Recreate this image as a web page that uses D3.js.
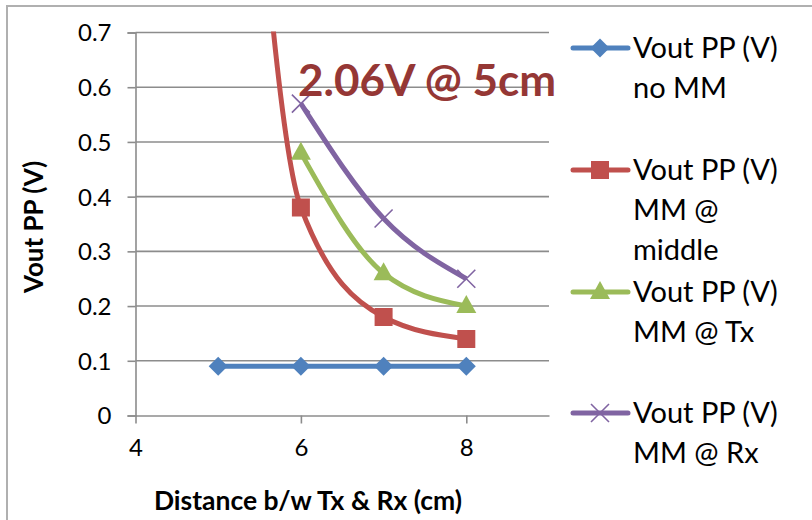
<!DOCTYPE html>
<html>
<head>
<meta charset="utf-8">
<script src="https://cdn.jsdelivr.net/npm/d3@7"></script>
<style>
  body { margin: 0; background: #fff; }
  svg { display: block; font-family: Lato, "Open Sans", sans-serif; }
</style>
</head>
<body>
<svg id="chart" width="812" height="520"></svg>
<script>
// values
var distances = [5, 6, 7, 8];
var noMM     = [0.09, 0.09, 0.09, 0.09];
var mmMiddle = [2.06, 0.38, 0.18, 0.14];   // first point is off the top of the axis
var mmTx     = [null, 0.48, 0.26, 0.20];
var mmRx     = [null, 0.57, 0.36, 0.25];

var xTicks = [4, 6, 8];
var yTicks = [0, 0.1, 0.2, 0.3, 0.4, 0.5, 0.6, 0.7];

var seriesLabels = [
  ["Vout PP (V)", "no MM"],
  ["Vout PP (V)", "MM @", "middle"],
  ["Vout PP (V)", "MM @ Tx"],
  ["Vout PP (V)", "MM @ Rx"]
];
var seriesColors = ["#4f81bd", "#c0504d", "#9bbb59", "#8064a2"];
var seriesMarkers = ["diamond", "square", "triangle", "cross"];
var annotation = "2.06V @ 5cm";

const svg = d3.select("#chart"),
    plot = {left: 135.5, right: 549, top: 32.5, bottom: 415.5};

// chart frame (only top and left edges show in the crop)
svg.append("rect")
    .attr("x", 7).attr("y", 6)
    .attr("width", 830).attr("height", 540)
    .attr("fill", "none")
    .attr("stroke", "#b0b0b0")
    .attr("stroke-width", 2);

const x = d3.scaleLinear().domain([4, 9]).range([plot.left, plot.right]);
const y = d3.scaleLinear().domain([0, 0.7]).range([plot.bottom, plot.top]);

// gridlines
svg.append("g").selectAll("line")
    .data(yTicks.slice(1))
    .enter().append("line")
    .attr("x1", plot.left).attr("x2", plot.right)
    .attr("y1", d => y(d)).attr("y2", d => y(d))
    .attr("stroke", "#8c8c8c").attr("stroke-width", 1.6);

// y axis
const yAxis = svg.append("g")
    .attr("transform", "translate(" + plot.left + ",0)")
    .call(d3.axisLeft(y).tickValues(yTicks).tickSize(8).tickPadding(16)
        .tickFormat(d => d === 0 ? "0" : d3.format(".1f")(d)));

// x axis
const xAxis = svg.append("g")
    .attr("transform", "translate(0," + plot.bottom + ")")
    .call(d3.axisBottom(x).tickValues(xTicks).tickSize(8).tickPadding(10)
        .tickSizeOuter(0).tickFormat(d3.format("d")));

[yAxis, xAxis].forEach(function (a) {
    a.select(".domain").attr("stroke", "#8c8c8c").attr("stroke-width", 1.6);
    a.selectAll(".tick line").attr("stroke", "#8c8c8c").attr("stroke-width", 1.6);
    a.selectAll(".tick text")
        .attr("fill", "#000")
        .style("font-family", "Lato, sans-serif")
        .style("font-size", "24px");
});
yAxis.selectAll(".tick text").attr("dy", "0.35em");
xAxis.selectAll(".tick text").attr("dy", "0.95em");

// axis titles
svg.append("text")
    .attr("x", 308).attr("y", 510)
    .style("text-anchor", "middle")
    .style("font-weight", "bold")
    .style("font-size", "26.5px")
    .text("Distance b/w Tx & Rx (cm)");

svg.append("text")
    .attr("transform", "translate(43,227) rotate(-90)")
    .style("text-anchor", "middle")
    .style("font-weight", "bold")
    .style("font-size", "26px")
    .text("Vout PP (V)");

// series
svg.append("clipPath").attr("id", "plotClip")
    .append("rect")
    .attr("x", plot.left).attr("y", plot.top - 1)
    .attr("width", plot.right - plot.left + 2)
    .attr("height", plot.bottom - plot.top + 12);

const allSeries = [noMM, mmMiddle, mmTx, mmRx];

const line = d3.line()
    .defined(d => d[1] != null)
    .x(d => x(d[0]))
    .y(d => y(d[1]))
    .curve(d3.curveMonotoneX);

function markerPath(kind) {
    if (kind === "diamond") return d3.symbol(d3.symbolDiamond2, 230)();
    if (kind === "square") return "M-9,-9H9V9H-9Z";
    if (kind === "triangle") return "M0,-11L10,7H-10Z";
    return "M-9,-9L9,9M9,-9L-9,9";
}

function drawMarker(sel, i) {
    sel.append("path")
        .attr("d", markerPath(seriesMarkers[i]))
        .attr("fill", seriesMarkers[i] === "cross" ? "none" : seriesColors[i])
        .attr("stroke", seriesColors[i])
        .attr("stroke-width", seriesMarkers[i] === "cross" ? 1.6 : 0);
}

const gSeries = svg.append("g").attr("clip-path", "url(#plotClip)");

allSeries.forEach(function (vals, i) {
    var pts = distances.map((d, j) => [d, vals[j]]).filter(p => p[1] != null);
    gSeries.append("path")
        .datum(pts)
        .attr("d", line)
        .attr("fill", "none")
        .attr("stroke", seriesColors[i])
        .attr("stroke-width", 5)
        .attr("stroke-linejoin", "round");
    pts.forEach(function (p) {
        var m = gSeries.append("g")
            .attr("transform", "translate(" + x(p[0]) + "," + y(p[1]) + ")");
        drawMarker(m, i);
    });
});

// annotation for the off-scale point
svg.append("text")
    .attr("x", 298).attr("y", 96)
    .attr("fill", "#953735")
    .style("font-weight", "bold")
    .style("font-size", "44px")
    .text(annotation);

// legend
var legendTop = [48, 170, 292, 413];
seriesLabels.forEach(function (lines, i) {
    var lg = svg.append("g").attr("transform", "translate(0," + legendTop[i] + ")");
    lg.append("line")
        .attr("x1", 573).attr("x2", 628)
        .attr("stroke", seriesColors[i])
        .attr("stroke-width", 5)
        .attr("stroke-linecap", "round");
    var m = lg.append("g").attr("transform", "translate(600,0)");
    drawMarker(m, i);
    lines.forEach(function (t, k) {
        lg.append("text")
            .attr("x", 633).attr("y", k * 40)
            .attr("dy", "0.35em")
            .style("font-size", "29px")
            .text(t);
    });
});
</script>
</body>
</html>
